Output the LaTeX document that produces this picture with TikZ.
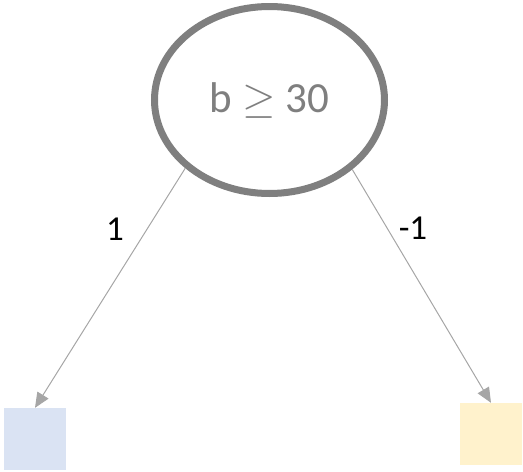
\RequirePackage{fix-cm}
\documentclass[tikz,border=0pt]{standalone}
\usepackage{fontspec}
\setmainfont{Carlito}
\usetikzlibrary{arrows.meta,shapes.geometric}
\definecolor{ringgray}{HTML}{7F7F7F}
\definecolor{linegray}{HTML}{A6A6A6}
\definecolor{leafblue}{HTML}{DAE3F3}
\definecolor{leafyellow}{HTML}{FFF2CC}
\tikzset{
  decision/.style={ellipse, draw=ringgray, line width=7pt, minimum width=230pt, minimum height=187pt, inner sep=0pt, text=ringgray, font=\fontsize{43}{50}\selectfont},
  leaf/.style={rectangle, draw=none, minimum width=62pt, minimum height=62pt, inner sep=0pt},
  edge/.style={draw=linegray, line width=1pt, -{Triangle[length=15pt,width=13pt]}},
  edgelabel/.style={text=black, font=\fontsize{35}{40}\selectfont, inner sep=0pt}
}
\begin{document}
\begin{tikzpicture}[x=1pt,y=-1pt]
  \useasboundingbox (0,0) rectangle (523,472);
  \node[decision] (e) at (269.5,100) {b \(\geq\) 30};
  \node[leaf, fill=leafblue] (L) at (35,439) {};
  \node[leaf, fill=leafyellow] (R) at (491,434) {};
  \draw[edge] (e.219.6) -- (L.north);
  \draw[edge] (e.320.5) -- (R.north);
  \node[edgelabel] (l1) at (115,229) {1};
  \node[edgelabel] (l2) at (413,228) {-1};
\end{tikzpicture}
\end{document}
